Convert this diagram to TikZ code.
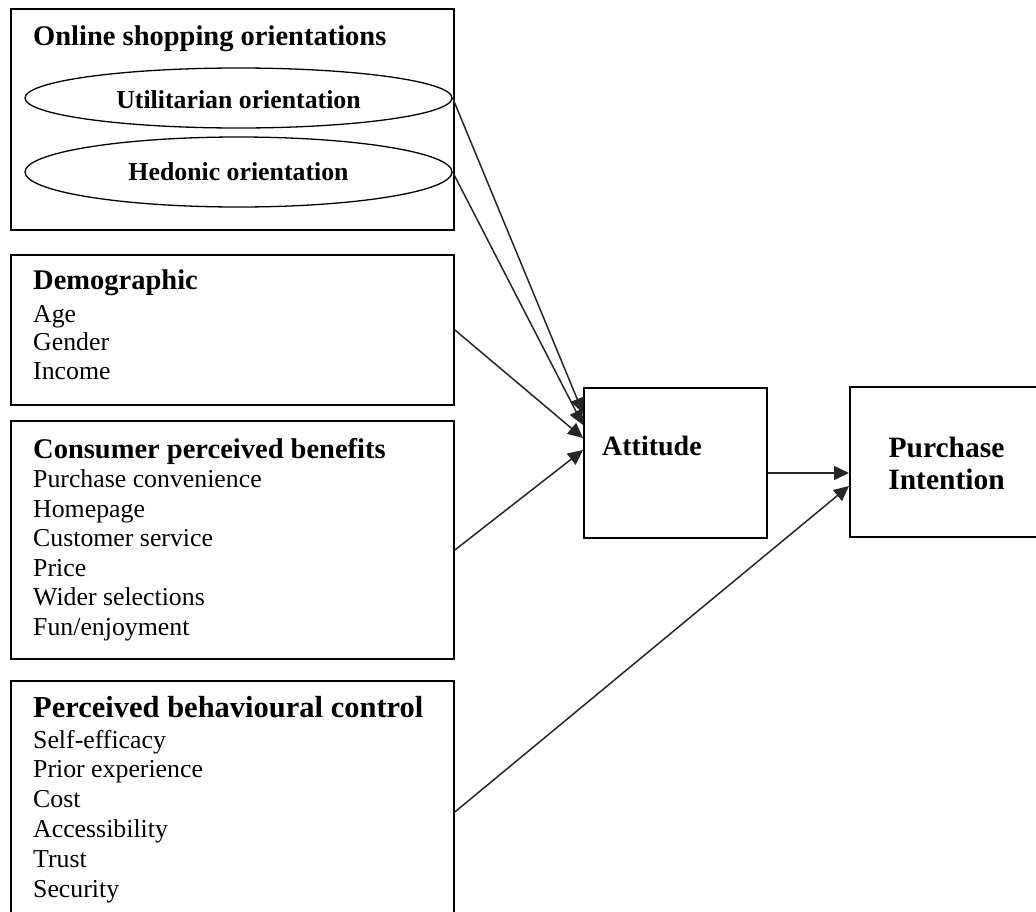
\documentclass[tikz,border=0pt]{standalone}
\usepackage{fontspec}
\setmainfont{Liberation Serif}
\usetikzlibrary{shapes.geometric,arrows.meta,calc}
\tikzset{
  box/.style={draw=black, line width=1.8pt, minimum width=443pt, inner sep=0pt, anchor=north west},
  oval/.style={draw=black, line width=1.3pt, ellipse, inner sep=0pt},
  ttl/.style={font=\fontsize{28.5}{32}\selectfont\bfseries, anchor=base west, inner sep=0pt},
  itm/.style={font=\fontsize{25.8}{29}\selectfont, anchor=base west, inner sep=0pt},
  otxt/.style={font=\fontsize{25.8}{29}\selectfont\bfseries, inner sep=0pt},
  conn/.style={draw=black!85, line width=1.5pt, -{Triangle[length=15pt,width=14pt]}},
}
\begin{document}
\begin{tikzpicture}[x=1pt,y=-1pt]
\clip (0,0) rectangle (1036,911);
\fill[white] (0,0) rectangle (1036,911);
% boxes
\node[box, minimum height=221pt] (b1) at (10,8) {};
\node[box, minimum height=150pt] (b2) at (10,254) {};
\node[box, minimum height=238pt] (b3) at (10,420) {};
\node[box, minimum height=260pt] (b4) at (10,680) {};
\node[box, minimum width=183pt, minimum height=150pt] (att) at (583,387) {};
\node[box, minimum width=196pt, minimum height=150pt] (pi) at (849,386) {};
% box 1
\node[ttl] (t1) at (33,45) {Online shopping orientations};
\node[oval, minimum width=427pt, minimum height=60pt] (e1) at (238.5,98) {};
\node[otxt] (u1) at (238.5,100) {Utilitarian orientation};
\node[oval, minimum width=427pt, minimum height=70pt] (e2) at (238.5,172) {};
\node[otxt] (h1) at (238.5,172) {Hedonic orientation};
% box 2
\node[ttl] (t2) at (33,289) {Demographic};
\foreach \t [count=\i] in {Age,Gender,Income}
  \node[itm] (d\i) at (33,{322+28.5*(\i-1)}) {\t};
% box 3
\node[ttl] (t3) at (33,458) {Consumer perceived benefits};
\foreach \t [count=\i] in {Purchase convenience,Homepage,Customer service,Price,Wider selections,Fun/enjoyment}
  \node[itm] (c\i) at (33,{487.5+29.5*(\i-1)}) {\t};
% box 4
\node[ttl, font=\fontsize{30.5}{34}\selectfont\bfseries] (t4) at (33,717) {Perceived behavioural control};
\foreach \t [count=\i] in {Self-efficacy,Prior experience,Cost,Accessibility,Trust,Security}
  \node[itm] (p\i) at (33,{748+29.8*(\i-1)}) {\t};
% right boxes text
\node[ttl, font=\fontsize{28}{32}\selectfont\bfseries] (at) at (602,455) {Attitude};
\node[ttl, anchor=base, font=\fontsize{29.5}{32}\selectfont\bfseries] (pu) at (946.5,457) {Purchase};
\node[ttl, anchor=base, font=\fontsize{29.5}{32}\selectfont\bfseries] (in) at (946.5,489) {Intention};
% connectors
\coordinate (a1) at ($(att.north west)+(0,26)$);
\coordinate (a2) at ($(att.north west)+(0,38)$);
\coordinate (a3) at ($(att.north west)+(0,51)$);
\coordinate (a4) at ($(att.north west)+(0,63)$);
\coordinate (s3) at ($(b3.north east)+(0,130)$);
\coordinate (s4) at ($(b4.north east)+(0,132)$);
\coordinate (pa) at ($(pi.north west)+(0,87)$);
\coordinate (pb) at ($(pi.north west)+(0,100)$);
\coordinate (ao) at ($(att.north east)+(0,86)$);
\draw[conn] (e1.east) -- (a1);
\draw[conn] (e2.east) -- (a2);
\draw[conn] (b2.east) -- (a3);
\draw[conn] (s3) -- (a4);
\draw[conn] (ao) -- (pa);
\draw[conn] (s4) -- (pb);
\end{tikzpicture}
\end{document}
